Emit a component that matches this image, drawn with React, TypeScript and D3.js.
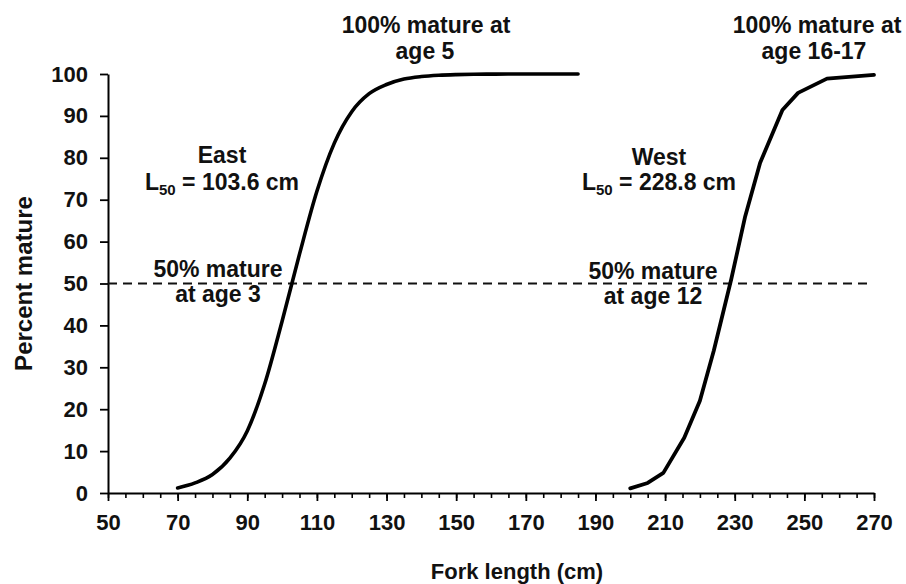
import React, { useEffect, useRef } from 'react';
import * as d3 from 'd3';

// east: fork length (cm) and percent mature
const eastLength = [70, 75, 80, 85, 90, 95, 100, 105, 110, 115, 120, 125, 130, 135, 140, 145, 150, 155, 160, 165, 170, 175, 180, 185];
const eastPct = [1.2, 2.4, 4.4, 8.3, 14.8, 26, 41, 57, 72, 83.5, 91, 95.3, 97.5, 98.8, 99.4, 99.7, 99.85, 99.93, 99.97, 100, 100, 100, 100, 100];

// west
const westLength = [200, 205, 209.5, 215.5, 220, 224, 229, 233, 237.3, 243.7, 248.2, 256.5, 270];
const westPct = [1.1, 2.4, 4.8, 13.2, 22, 34, 51, 66, 78.8, 91.4, 95.5, 98.9, 99.8];

const xTickLabels = [50, 70, 90, 110, 130, 150, 170, 190, 210, 230, 250, 270];
const yTickLabels = [0, 10, 20, 30, 40, 50, 60, 70, 80, 90, 100];

export default function App() {
  const svgRef = useRef<SVGSVGElement>(null);

  useEffect(() => {
    const width = 906;
    const height = 584;
    const font = '"Liberation Sans", Arial, sans-serif';
    const svg = d3.select(svgRef.current)
      .attr('width', width)
      .attr('height', height)
      .style('font-family', font)
      .style('font-weight', 'bold');
    svg.selectAll('*').remove();

    // scales
    const x = d3.scaleLinear().domain([50, 270]).range([108, 874]);
    const y = d3.scaleLinear().domain([0, 100]).range([493, 74]);

    // minor x ticks every 5
    svg.append('g')
      .attr('transform', `translate(0, ${y(0)})`)
      .call(d3.axisBottom(x).tickValues(d3.range(50, 271, 5)).tickSize(5).tickFormat(() => ''))
      .call(g => g.select('.domain').remove())
      .call(g => g.selectAll('line').attr('stroke', '#000').attr('stroke-width', 1.6));

    // major x axis
    const xAxis = svg.append('g')
      .attr('transform', `translate(0, ${y(0)})`)
      .call(d3.axisBottom(x).tickValues(xTickLabels).tickSize(8).tickSizeOuter(0).tickPadding(13).tickFormat(d3.format('d')));
    xAxis.select('.domain').attr('stroke', '#000').attr('stroke-width', 2);
    xAxis.selectAll('line').attr('stroke', '#000').attr('stroke-width', 1.8);
    xAxis.selectAll('text').attr('fill', '#111').style('font-size', '22px').style('font-family', font);

    // y axis
    const yAxis = svg.append('g')
      .attr('transform', `translate(${x(50)}, 0)`)
      .call(d3.axisLeft(y).tickValues(yTickLabels).tickSize(8).tickSizeOuter(0).tickPadding(12));
    yAxis.select('.domain').attr('stroke', '#000').attr('stroke-width', 2);
    yAxis.selectAll('line').attr('stroke', '#000').attr('stroke-width', 1.8);
    yAxis.selectAll('text').attr('fill', '#111').style('font-size', '22px').style('font-family', font);

    // 50% dashed line
    svg.append('line')
      .attr('x1', x(50)).attr('x2', x(268.5))
      .attr('y1', y(50)).attr('y2', y(50))
      .attr('stroke', '#111')
      .attr('stroke-width', 2)
      .attr('stroke-dasharray', '9,6');

    // curves
    const line = d3.line<[number, number]>()
      .x(d => x(d[0]))
      .y(d => y(d[1]));

    svg.append('path')
      .datum(eastLength.map((l, i) => [l, eastPct[i]] as [number, number]))
      .attr('d', line.curve(d3.curveMonotoneX))
      .attr('fill', 'none')
      .attr('stroke', '#000')
      .attr('stroke-width', 3.6)
      .attr('stroke-linejoin', 'round')
      .attr('stroke-linecap', 'round');

    svg.append('path')
      .datum(westLength.map((l, i) => [l, westPct[i]] as [number, number]))
      .attr('d', line.curve(d3.curveLinear))
      .attr('fill', 'none')
      .attr('stroke', '#000')
      .attr('stroke-width', 3.8)
      .attr('stroke-linejoin', 'round')
      .attr('stroke-linecap', 'round');

    // annotations
    const label = (tx: number, ty: number, txt: string) =>
      svg.append('text')
        .attr('x', tx).attr('y', ty)
        .attr('text-anchor', 'middle')
        .attr('fill', '#111')
        .style('font-size', '23px')
        .text(txt);

    label(426, 33, '100% mature at');
    label(425, 59, 'age 5');
    label(817, 33, '100% mature at');
    label(814, 59, 'age 16-17');
    label(222, 163, 'East');
    label(659, 165, 'West');
    label(218, 277, '50% mature');
    label(218, 302, 'at age 3');
    label(653, 279, '50% mature');
    label(653, 304, 'at age 12');

    const l50 = (tx: number, ty: number, val: string) => {
      const t = svg.append('text')
        .attr('x', tx).attr('y', ty)
        .attr('text-anchor', 'middle')
        .attr('fill', '#111')
        .style('font-size', '23px');
      t.append('tspan').text('L');
      t.append('tspan').attr('dy', 5).style('font-size', '15px').text('50');
      t.append('tspan').attr('dy', -5).text(` = ${val} cm`);
    };
    l50(222, 190, '103.6');
    l50(659, 190, '228.8');

    // axis titles
    svg.append('text')
      .attr('x', 517).attr('y', 579)
      .attr('text-anchor', 'middle')
      .attr('fill', '#111')
      .style('font-size', '22px')
      .text('Fork length (cm)');

    svg.append('text')
      .attr('transform', `translate(32, ${(y(0) + y(100)) / 2}) rotate(-90)`)
      .attr('text-anchor', 'middle')
      .attr('fill', '#111')
      .style('font-size', '24px')
      .text('Percent mature');
  }, []);

  return (
    <svg ref={svgRef} style={{ position: 'absolute', left: 0, top: 0, background: '#fff' }}></svg>
  );
}
